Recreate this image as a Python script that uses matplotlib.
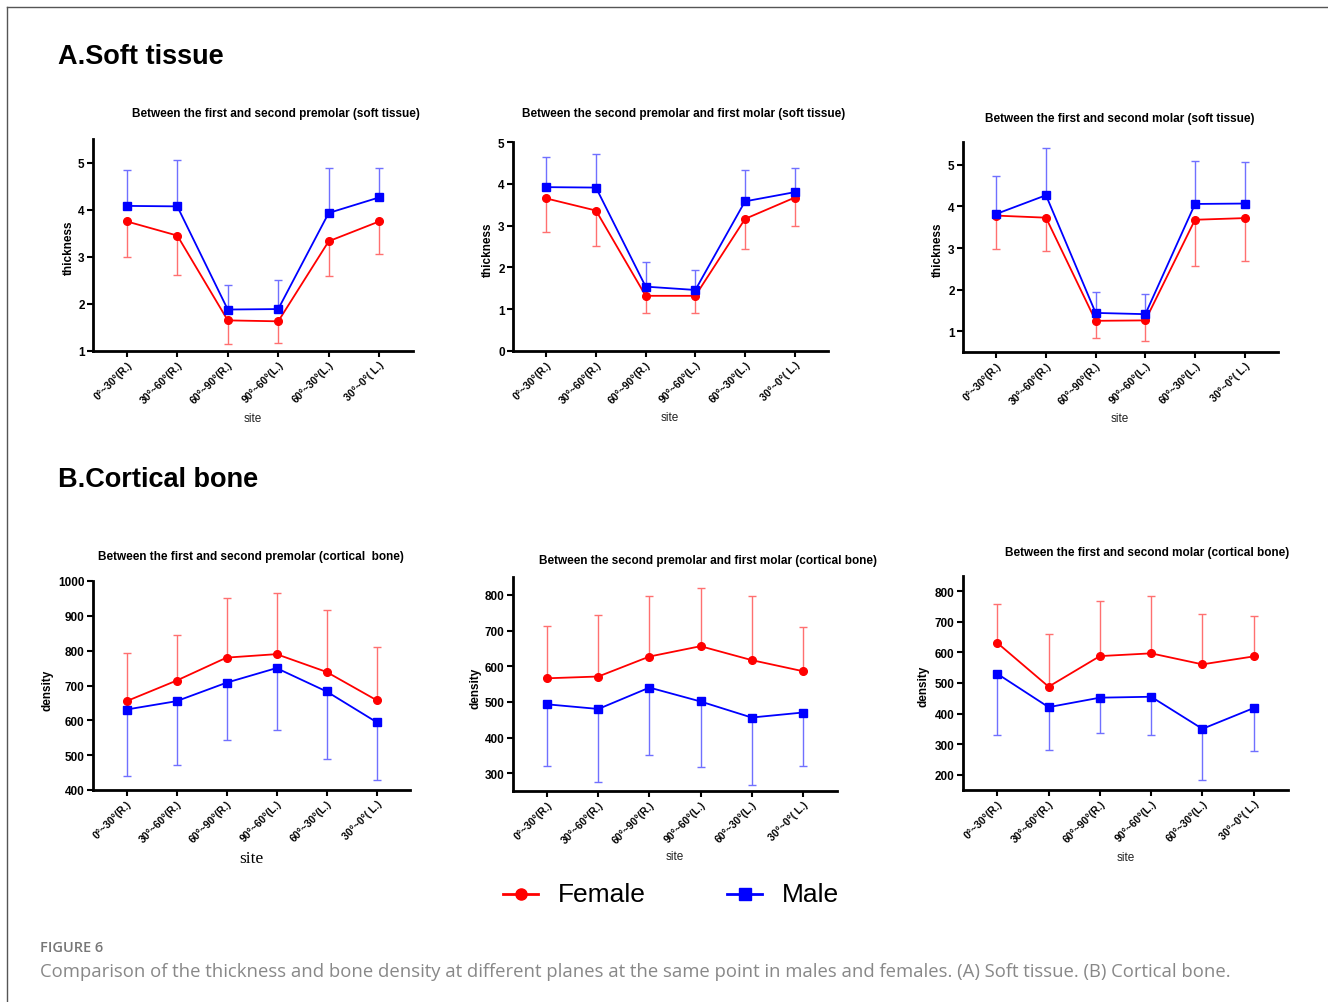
import matplotlib
matplotlib.use("Agg")
from matplotlib import pyplot as plt
from matplotlib.lines import Line2D
import numpy as np

plt.rcParams['font.family'] = ['Liberation Sans', 'DejaVu Sans']

W, H = 1328, 1003

sites = ["0°~30°(R.)", "30°~60°(R.)", "60°~90°(R.)", "90°~60°(L.)", "60°~30°(L.)", "30°~0°( L.)"]

# soft tissue thickness, mean and SD
a1_female = [3.75, 3.45, 1.65, 1.63, 3.33, 3.75]
a1_female_sd = [0.75, 0.83, 0.50, 0.46, 0.74, 0.70]
a1_male = [4.08, 4.07, 1.88, 1.89, 3.93, 4.26]
a1_male_sd = [0.76, 0.98, 0.52, 0.61, 0.95, 0.62]

a2_female = [3.65, 3.36, 1.32, 1.32, 3.16, 3.67]
a2_female_sd = [0.80, 0.85, 0.41, 0.41, 0.72, 0.69]
a2_male = [3.92, 3.91, 1.54, 1.46, 3.58, 3.80]
a2_male_sd = [0.72, 0.81, 0.58, 0.48, 0.75, 0.58]

a3_female = [3.78, 3.73, 1.25, 1.26, 3.68, 3.72]
a3_female_sd = [0.81, 0.81, 0.42, 0.50, 1.11, 1.04]
a3_male = [3.82, 4.27, 1.44, 1.41, 4.06, 4.07]
a3_male_sd = [0.92, 1.14, 0.50, 0.48, 1.03, 0.99]

# cortical bone density, mean and SD
b1_female = [655, 714, 780, 790, 739, 658]
b1_female_sd = [137, 132, 170, 175, 179, 152]
b1_male = [631, 655, 708, 750, 683, 595]
b1_male_sd = [191, 184, 165, 179, 193, 167]

b2_female = [566, 571, 627, 656, 617, 586]
b2_female_sd = [146, 173, 169, 163, 179, 123]
b2_male = [493, 480, 540, 501, 456, 470]
b2_male_sd = [172, 205, 190, 185, 188, 149]

b3_female = [631, 488, 588, 597, 561, 587]
b3_female_sd = [127, 173, 180, 186, 164, 133]
b3_male = [530, 421, 452, 455, 350, 418]
b3_male_sd = [200, 141, 117, 125, 166, 139]


def px_rect(l, t, r, b):
    return [l / W, 1 - b / H, (r - l) / W, (b - t) / H]


def fx(x):
    return x / W


def fy(y):
    return 1 - y / H


def one_sided(sd, up):
    z = np.zeros(len(sd))
    return [z, sd] if up else [sd, z]


def panel(fig, rect, female, female_sd, male, male_sd, ylim, yticks, female_up):
    ax = fig.add_axes(px_rect(*rect))
    x = np.arange(len(sites))
    ax.errorbar(x, female, yerr=one_sided(female_sd, female_up), fmt='none',
                ecolor='#ff7070', elinewidth=1.0, capsize=3, capthick=1.0)
    ax.errorbar(x, male, yerr=one_sided(male_sd, not female_up), fmt='none',
                ecolor='#7070ff', elinewidth=1.0, capsize=3, capthick=1.0)
    ax.plot(x, female, color='red', marker='o', markersize=5.5, lw=1.3)
    ax.plot(x, male, color='blue', marker='s', markersize=5.5, lw=1.3)
    ax.set_xlim(-0.67, 5.67)
    ax.set_ylim(*ylim)
    ax.set_yticks(yticks)
    ax.set_xticks(x)
    ax.set_xticklabels(sites, rotation=45, ha='right', rotation_mode='anchor',
                       fontsize=7.5, fontweight='bold')
    for lab in ax.get_yticklabels():
        lab.set_fontsize(8.5)
        lab.set_fontweight('bold')
    for s in ['top', 'right']:
        ax.spines[s].set_visible(False)
    for s in ['left', 'bottom']:
        ax.spines[s].set_linewidth(2)
    ax.tick_params(width=1.5, length=4, pad=2)
    return ax


fig = plt.figure(figsize=(W / 100, H / 100), dpi=100)

# frame lines
fig.add_artist(Line2D([fx(7), 1], [fy(8), fy(8)], color='#555555', lw=1))
fig.add_artist(Line2D([fx(7), fx(7)], [fy(8), 0], color='#555555', lw=1))

fig.text(fx(58), fy(57), "A.Soft tissue", fontsize=19.5, fontweight='bold', va='center')
fig.text(fx(58), fy(480), "B.Cortical bone", fontsize=19.5, fontweight='bold', va='center')

panel(fig, (93, 140, 413, 352), a1_female, a1_female_sd, a1_male, a1_male_sd,
      (1, 5.5), [1, 2, 3, 4, 5], False)
panel(fig, (513, 143, 828, 352), a2_female, a2_female_sd, a2_male, a2_male_sd,
      (0, 5), [0, 1, 2, 3, 4, 5], False)
panel(fig, (963, 143, 1278, 353), a3_female, a3_female_sd, a3_male, a3_male_sd,
      (0.5, 5.55), [1, 2, 3, 4, 5], False)
panel(fig, (93, 582, 410, 791), b1_female, b1_female_sd, b1_male, b1_male_sd,
      (400, 1000), [400, 500, 600, 700, 800, 900, 1000], True)
panel(fig, (513, 578, 837, 792), b2_female, b2_female_sd, b2_male, b2_male_sd,
      (250, 850), [300, 400, 500, 600, 700, 800], True)
panel(fig, (963, 577, 1288, 791), b3_female, b3_female_sd, b3_male, b3_male_sd,
      (150, 850), [200, 300, 400, 500, 600, 700, 800], True)

titles = [
    ("Between the first and second premolar (soft tissue)", 276, 114),
    ("Between the second premolar and first molar (soft tissue)", 684, 114),
    ("Between the first and second molar (soft tissue)", 1120, 119),
    ("Between the first and second premolar (cortical  bone)", 251, 557),
    ("Between the second premolar and first molar (cortical bone)", 708, 561),
    ("Between the first and second molar (cortical bone)", 1147, 553),
]
for t, x, y in titles:
    fig.text(fx(x), fy(y), t, fontsize=8.5, fontweight='bold', ha='center', va='center')

ylabels = [("thickness", 69, 248), ("thickness", 488, 250), ("thickness", 938, 250),
           ("density", 47, 690), ("density", 475, 688), ("density", 924, 686)]
for t, x, y in ylabels:
    fig.text(fx(x), fy(y), t, fontsize=8.5, fontweight='bold', rotation=90,
             ha='center', va='center')

for x, y in [(253, 419), (670, 418), (1120, 419), (675, 857), (1126, 858)]:
    fig.text(fx(x), fy(y), "site", fontsize=8.5, ha='center', va='center', color='#222222')
fig.text(fx(251), fy(859), "site", fontsize=12.5, family='Liberation Serif',
         ha='center', va='center')

# legend
fig.add_artist(Line2D([fx(503), fx(520.5), fx(538)], [fy(895)] * 3, color='red', lw=2,
                      marker='o', markersize=8, markevery=[1]))
fig.add_artist(Line2D([fx(727), fx(744.5), fx(762)], [fy(895)] * 3, color='blue', lw=2,
                      marker='s', markersize=8, markevery=[1]))
fig.text(fx(558), fy(895), "Female", fontsize=19, va='center')
fig.text(fx(782), fy(895), "Male", fontsize=19, va='center')

# caption
fig.text(fx(40), fy(948), "FIGURE 6", fontsize=10.5, color='#777777', va='center',
         family='Open Sans', fontweight='semibold')
fig.text(fx(40), fy(972), "Comparison of the thickness and bone density at different planes at the same point in males and females. "
         "(A) Soft tissue. (B) Cortical bone.",
         fontsize=13.3, color='#888888', va='center', family='Open Sans')

fig.savefig("out.png", dpi=100)
